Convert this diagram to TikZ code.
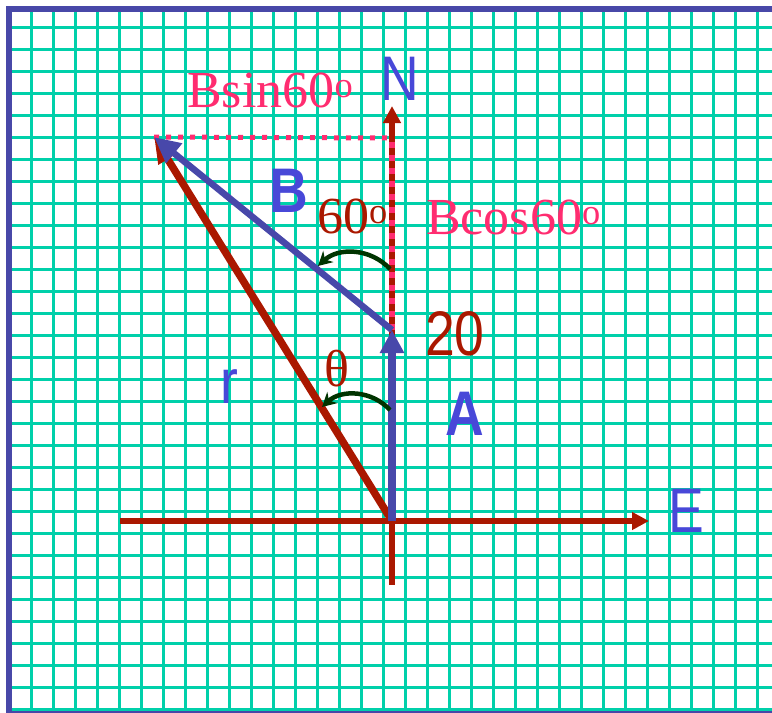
\documentclass[tikz,border=0pt]{standalone}
\usepackage{fontspec}
\setmainfont{Liberation Serif}
\newfontfamily\labelsans{Liberation Sans}
\usepackage{tikz}
\usetikzlibrary{arrows.meta}
\definecolor{gridgreen}{RGB}{0,208,170}
\definecolor{frameblue}{RGB}{72,72,168}
\definecolor{vecblue}{RGB}{72,72,170}
\definecolor{textblue}{RGB}{72,72,216}
\definecolor{darkred}{RGB}{170,24,0}
\definecolor{hotpink}{RGB}{255,44,112}
\definecolor{arcgreen}{RGB}{0,52,0}

\begin{document}
\begin{tikzpicture}[x=1pt, y=-1pt,
    gridline/.style={gridgreen, line width=3pt},
    axisline/.style={darkred, line width=6pt},
    redvec/.style={darkred, line width=7.5pt},
    bluevec/.style={vecblue, line width=6.5pt},
    anglearc/.style={arcgreen, line width=4.5pt, -{Stealth[length=14pt,width=15pt]}},
    seriflabel/.style={inner sep=0pt, anchor=base west, font=\fontsize{52}{62}\selectfont},
    sanslabel/.style={inner sep=0pt, anchor=base west, xscale=0.85, font=\labelsans\fontsize{63}{70}\selectfont, text=textblue}]
    \useasboundingbox (0,0) rectangle (772,713);
    \begin{scope}
      \clip (0,0) rectangle (772,713);
      \foreach \gx in {31.5,53.5,...,760} \draw[gridline] (\gx,9) -- (\gx,713);
      \foreach \gy in {27.3,49.3,...,712} \draw[gridline] (9,\gy) -- (772,\gy);
      \draw[frameblue, line width=5.5pt] (9,9) rectangle (780,714);
    \end{scope}
    \coordinate (O) at (392,521);
    \coordinate (Atip) at (392,330);
    \coordinate (Btip) at (154,137);
    \coordinate (Ntip) at (392,106);
    \coordinate (Nfoot) at (392,138);
    \coordinate (Etip) at (649,521);
    \coordinate (Wend) at (120,521);
    \coordinate (Send) at (392,585);
    \draw[axisline, -{Triangle[length=17pt,width=17pt]}] (Wend) -- (Etip);
    \draw[axisline] (O) -- (Send);
    \draw[axisline, -{Triangle[length=17pt,width=17pt]}] (O) -- (Ntip);
    \draw[hotpink, line width=6pt, dash pattern=on 6.5pt off 6.5pt] (Atip) -- (Nfoot);
    \draw[hotpink, line width=5pt, dash pattern=on 5pt off 7pt] (Btip) -- (Nfoot);
    \draw[redvec, -{Triangle[length=26pt,width=20pt]}] (O) -- (Btip);
    \draw[bluevec, -{Triangle[length=26pt,width=24pt]}] (Atip) -- (Btip);
    \draw[bluevec, line width=8.5pt, -{Triangle[length=23pt,width=23pt]}] (O) -- (Atip);
    \coordinate (arcBr) at (390,269);
    \coordinate (arcBl) at (318,266);
    \coordinate (arcAr) at (390,410);
    \coordinate (arcAl) at (322,407);
    \draw[anglearc] (arcBr) to[bend right=45] (arcBl);
    \draw[anglearc] (arcAr) to[bend right=45] (arcAl);
    \node[seriflabel, text=hotpink] (bsin) at (187,107) {Bsin60\textsuperscript{o}};
    \node[seriflabel, text=hotpink] (bcos) at (426,234) {Bcos60\textsuperscript{o}};
    \node[seriflabel, text=darkred] (angB) at (317,233) {60\textsuperscript{o}};
    \node[seriflabel, text=darkred] (angr) at (324,386) {θ};
    \node[sanslabel] (north) at (380,100) {N};
    \node[sanslabel] (east) at (668,532) {E};
    \node[sanslabel, font=\labelsans\bfseries\fontsize{63}{70}\selectfont] (vecB) at (269,212) {B};
    \node[sanslabel, font=\labelsans\bfseries\fontsize{63}{70}\selectfont] (vecA) at (445,435) {A};
    \node[sanslabel] (vecr) at (220,403) {r};
    \node[sanslabel, text=darkred] (mag) at (425,355) {20};
\end{tikzpicture}
\end{document}
